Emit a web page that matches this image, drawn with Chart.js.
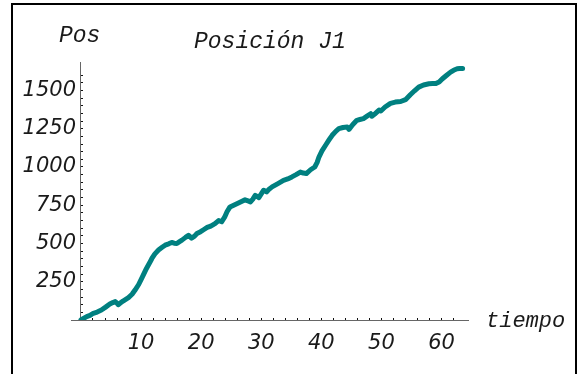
<!DOCTYPE html>
<html>
<head>
<meta charset="utf-8">
<script src="https://cdn.jsdelivr.net/npm/chart.js@4/dist/chart.umd.min.js"></script>
<style>
  html, body { margin: 0; padding: 0; background: #fff; }
  #wrap { position: relative; width: 580px; height: 374px; overflow: hidden; }
  #frame { position: absolute; left: 11px; top: 3px; width: 566px; height: 420px; border: 2px solid #000; box-sizing: border-box; }
  #c { position: absolute; left: 0; top: 0; }
</style>
</head>
<body>
<div id="wrap">
  <div id="frame"></div>
  <canvas id="c" width="580" height="374"></canvas>
</div>
<script>
// tiempo (s) y posición de la articulación J1
var tiempo = [
  0, 0.5, 0.95, 1.5, 2.05, 2.7, 3.4, 4.1, 4.8, 5.3, 5.7, 6.0, 6.2, 6.6, 7.0, 7.9,
  8.5, 9.0, 9.6, 10.1, 10.5, 10.9, 11.4, 11.8, 12.3, 12.9, 13.5, 14.0, 14.6, 15.1,
  15.5, 15.95, 16.4, 16.8, 17.4, 17.9, 18.4, 18.9, 19.3, 19.9, 20.4, 21.0, 21.6, 22.3,
  22.9, 23.4, 23.9, 24.3, 24.8, 25.5, 26.2, 26.8, 27.3, 27.8, 28.2, 28.6, 29.0, 29.3,
  29.6, 30.0, 30.4, 30.7, 30.9, 31.3, 31.8, 32.7, 33.7, 34.4, 35.1, 35.8, 36.5, 37.0,
  37.5, 38.2, 38.9, 39.3, 39.6, 40.1, 40.7, 41.3, 41.8, 42.4, 42.9, 43.6, 44.3, 44.6,
  45.2, 45.9, 46.4, 47.0, 47.6, 48.2, 48.4, 49.0, 49.6, 49.9, 50.6, 51.5, 52.3, 53.2,
  54.0, 54.8, 55.5, 56.2, 57.0, 57.9, 58.5, 59.0, 59.6, 60.1, 60.8, 61.5, 62.0, 62.6,
  63.0, 63.5
];
var posicion = [
  0, 12, 22, 30, 44, 52, 65, 84, 104, 114, 120, 110, 100, 112, 124, 146,
  168, 196, 232, 272, 305, 337, 372, 402, 432, 457, 475, 489, 498, 507,
  502, 500, 512, 522, 540, 554, 535, 548, 565, 577, 590, 605, 614, 630,
  650, 642, 672, 707, 739, 752, 765, 776, 785, 778, 772, 790, 815, 808,
  800, 824, 848, 842, 837, 855, 870, 890, 913, 922, 935, 950, 967, 960,
  957, 982, 1000, 1030, 1065, 1105, 1142, 1178, 1207, 1233, 1250, 1258, 1261, 1246,
  1276, 1305, 1310, 1316, 1332, 1348, 1332, 1350, 1372, 1366, 1392, 1416, 1424, 1428,
  1440, 1472, 1498, 1522, 1536, 1544, 1545, 1545, 1555, 1575, 1598, 1620, 1632, 1642,
  1644, 1644
];
var xTickLabels = [10, 20, 30, 40, 50, 60];
var yTickLabels = [250, 500, 750, 1000, 1250, 1500];

var puntos = tiempo.map(function (t, i) { return { x: t, y: posicion[i] }; });

var tickFont = { family: 'DejaVu Sans', style: 'italic', size: 21 };
var labelFont = 'italic 23px "Liberation Mono"';
var yMax = 1686;

function soloMultiplos(paso) {
  return function (s) {
    s.ticks = s.ticks.filter(function (t) {
      var r = Math.round(t.value);
      return Math.abs(t.value - r) < 1e-6 && r >= 0 && r % paso === 0;
    });
  };
}

// textos del gráfico: título y nombres de ejes
var textos = {
  id: 'textos',
  afterDraw: function (chart) {
    var ctx = chart.ctx;
    ctx.save();
    ctx.fillStyle = '#1a1a1a';
    ctx.font = labelFont;
    ctx.textBaseline = 'alphabetic';
    ctx.textAlign = 'left';
    ctx.fillText('Pos', 59, 42);
    ctx.fillText('Posición J1', 194, 48);
    ctx.font = 'italic 22px "Liberation Mono"';
    ctx.fillText('tiempo', 486, 327);
    ctx.restore();
  }
};

new Chart(document.getElementById('c'), {
  type: 'line',
  data: {
    datasets: [{
      data: puntos,
      borderColor: '#008080',
      borderWidth: 5,
      borderCapStyle: 'round',
      borderJoinStyle: 'round',
      pointRadius: 0,
      tension: 0,
      fill: false
    }]
  },
  options: {
    responsive: false,
    animation: false,
    events: [],
    layout: { padding: { left: 71, right: 112, top: 62, bottom: 54 } },
    plugins: { legend: { display: false }, title: { display: false }, tooltip: { enabled: false } },
    scales: {
      x: {
        type: 'linear',
        min: -1.66,
        max: 64.4,
        position: { y: 0 },
        border: { color: '#666', width: 1 },
        grid: { drawOnChartArea: false, drawTicks: true, tickLength: -3, color: '#111' },
        afterBuildTicks: function (s) {
          soloMultiplos(2)(s);
          s.ticks = s.ticks.filter(function (t) { return t.value <= 64; });
        },
        ticks: {
          stepSize: 2, autoSkip: false, maxRotation: 0, padding: 14,
          color: '#1a1a1a', font: tickFont,
          callback: function (v) { return xTickLabels.indexOf(v) >= 0 ? String(v) : ''; }
        }
      },
      y: {
        type: 'linear',
        min: 0,
        max: yMax,
        position: { x: 0 },
        border: { color: '#666', width: 1 },
        grid: { drawOnChartArea: false, drawTicks: true, tickLength: -3, color: '#111' },
        afterBuildTicks: soloMultiplos(50),
        ticks: { stepSize: 50, autoSkip: false, display: false }
      },
      // eje auxiliar solo para las etiquetas de posición, algo a la izquierda del eje
      yEtiquetas: {
        type: 'linear',
        axis: 'y',
        min: 0,
        max: yMax,
        position: { x: -0.83 },
        border: { display: false },
        grid: { display: false, drawTicks: false },
        afterBuildTicks: soloMultiplos(250),
        ticks: {
          stepSize: 250, autoSkip: false,
          color: '#1a1a1a', font: tickFont,
          callback: function (v) { return yTickLabels.indexOf(v) >= 0 ? String(v) : ''; }
        }
      }
    }
  },
  plugins: [textos]
});
</script>
</body>
</html>
